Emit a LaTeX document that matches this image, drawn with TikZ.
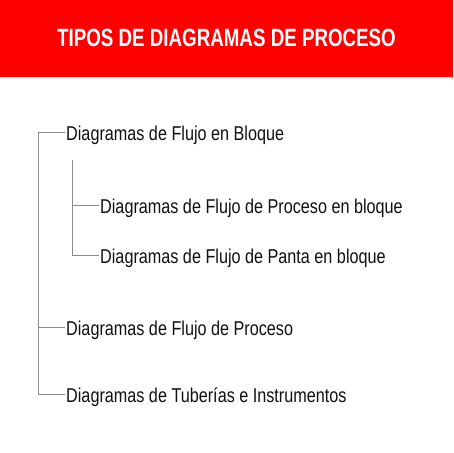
\documentclass[tikz,border=0pt]{standalone}
\usepackage{fontspec}
\setmainfont{Liberation Sans}
\newfontfamily\bodyfont[FakeStretch=0.81]{Liberation Sans}
\newfontfamily\headfont[FakeStretch=0.75]{Liberation Sans}
\definecolor{bannerred}{HTML}{FF0000}
\definecolor{treegray}{HTML}{8C8C8C}
\definecolor{txt}{HTML}{111111}
\begin{document}
\begin{tikzpicture}[x=1pt,y=-1pt,
  item/.style={anchor=west,inner xsep=1.5pt,inner ysep=0pt,text height=16pt,text depth=0pt,
    font=\bodyfont\fontsize{20pt}{23pt}\selectfont,text=txt},
  treeline/.style={draw=treegray,line width=0.9pt}]
\useasboundingbox (0,0) rectangle (453,453);
\fill[white] (0,0) rectangle (453,453);
\fill[bannerred] (0,0) rectangle (453,77);
\node[anchor=base,inner sep=0pt,text=white,font=\headfont\bfseries\fontsize{25pt}{28pt}\selectfont] (title) at (226.5,46) {TIPOS DE DIAGRAMAS DE PROCESO};
\node[item] (n1) at (64.5,132.5) {Diagramas de Flujo en Bloque};
\node[item] (n2) at (98.5,205.5) {Diagramas de Flujo de Proceso en bloque};
\node[item] (n3) at (98.5,255.5) {Diagramas de Flujo de Panta en bloque};
\node[item] (n4) at (64.5,327.5) {Diagramas de Flujo de Proceso};
\node[item] (n5) at (64.5,394) {Diagramas de Tuberías e Instrumentos};
\coordinate (otr) at (38,0);
\coordinate (itop) at (72,160);
\draw[treeline] (n1.west) -- (n1.west -| otr) -- (n5.west -| otr) -- (n5.west);
\draw[treeline] (n4.west) -- (n4.west -| otr);
\draw[treeline] (itop) -- (itop |- n3.west) -- (n3.west);
\draw[treeline] (n2.west) -- (n2.west -| itop);
\end{tikzpicture}
\end{document}
